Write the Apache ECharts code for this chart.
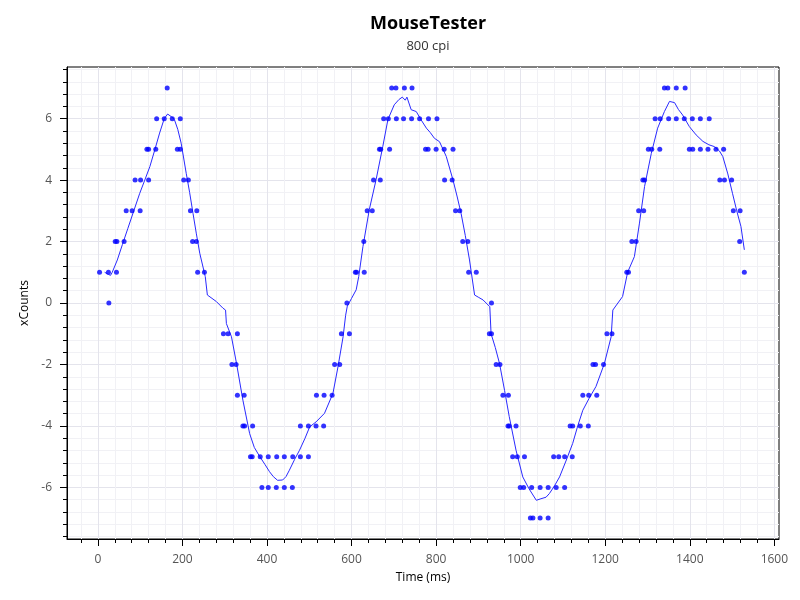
<!DOCTYPE html>
<html>
<head>
<meta charset="utf-8">
<title>MouseTester</title>
<script src="https://cdn.jsdelivr.net/npm/echarts@6/dist/echarts.min.js"></script>
<style>
  html, body { margin: 0; padding: 0; background: #fff; }
  #chart { width: 800px; height: 600px; }
</style>
</head>
<body>
<div id="chart"></div>
<script>
// raw counts (dots)
var dotTimes = [4, 25, 26, 41, 44, 45, 62, 67, 81, 88, 100, 101, 116, 120, 120, 137, 139, 157, 164, 176, 188, 195, 195, 203, 214, 219, 224, 233, 234, 236, 252,
  297, 308, 317, 327, 330, 330, 343, 346, 347, 361, 365, 366, 384, 388, 403, 403, 422, 423, 441, 441, 460, 461, 479, 479, 498, 498, 516, 517, 534, 535, 554, 560, 572, 576, 589, 595,
  609, 612, 629, 630, 637, 649, 652, 666, 668, 669, 676, 687, 690, 695, 705, 706, 723, 725, 742, 743, 761, 775, 781, 782, 800, 802, 819, 820, 838, 840, 846, 856, 863, 875, 877, 895,
  926, 931, 931, 942, 951, 958, 970, 971, 973, 981, 989, 992, 999, 1007, 1009, 1023, 1026, 1029, 1046, 1046, 1065, 1065, 1078, 1084, 1090, 1104, 1104, 1117, 1122, 1123, 1141, 1147, 1160, 1161, 1171, 1177, 1180, 1196, 1204, 1216,
  1251, 1255, 1263, 1273, 1279, 1289, 1291, 1293, 1302, 1310, 1318, 1329, 1330, 1340, 1348, 1350, 1368, 1368, 1387, 1389, 1399, 1406, 1407, 1425, 1425, 1443, 1446, 1462, 1471, 1480, 1482, 1499, 1503, 1518, 1519, 1529];
var dotCounts = [1, 1, 0, 2, 1, 2, 2, 3, 3, 4, 3, 4, 5, 4, 5, 5, 6, 6, 7, 6, 5, 5, 6, 4, 4, 3, 2, 2, 3, 1, 1,
  -1, -1, -2, -2, -1, -3, -4, -3, -4, -5, -5, -4, -5, -6, -5, -6, -6, -5, -5, -6, -6, -5, -5, -4, -5, -4, -4, -3, -4, -3, -3, -2, -2, -1, 0, -1,
  1, 1, 2, 1, 3, 3, 4, 5, 4, 5, 6, 6, 5, 7, 7, 6, 6, 7, 6, 7, 6, 5, 5, 6, 5, 6, 5, 4, 4, 5, 3, 3, 2, 2, 1, 1,
  -1, -1, 0, -2, -2, -3, -4, -3, -4, -5, -4, -5, -6, -6, -5, -7, -6, -7, -7, -6, -7, -6, -5, -6, -5, -6, -5, -4, -5, -4, -4, -3, -4, -3, -2, -2, -3, -2, -1, -1,
  1, 1, 2, 2, 3, 4, 3, 4, 5, 5, 6, 5, 6, 7, 7, 6, 6, 7, 6, 7, 5, 6, 5, 6, 5, 5, 6, 5, 4, 5, 4, 4, 3, 2, 3, 1];

// smoothed trace (line)
var lineTimes = [16, 25, 30, 34, 46, 58, 71, 85, 99, 111, 123, 135, 146, 157, 165, 169, 175, 181, 189, 197, 209, 217, 225, 233, 241, 254, 259, 280, 296, 302, 304, 316, 328, 343, 359, 370, 383, 395, 406, 415, 425, 437, 445, 453, 465, 477, 490, 501, 516, 536, 556, 568, 580, 586, 590, 600,
  611, 617, 627, 642, 658, 674, 686, 701, 712, 720, 727, 731, 741, 753, 765, 777, 786, 796, 808, 824, 840, 850, 859, 869, 879, 891, 901, 911, 927, 930, 940, 950, 962, 973, 989, 1005, 1020, 1037, 1048, 1060, 1068, 1080, 1092, 1108, 1123, 1135, 1147, 1162, 1178, 1198, 1214, 1218, 1230, 1241,
  1253, 1269, 1281, 1293, 1309, 1324, 1340, 1352, 1364, 1373, 1383, 1399, 1415, 1431, 1445, 1458, 1470, 1478, 1490, 1501, 1511, 1521, 1529];
var lineCounts = [1.0, 0.93, 0.9, 1.0, 1.4, 1.9, 2.43, 3.0, 3.57, 4.0, 4.44, 5.0, 5.53, 6.0, 6.15, 6.12, 6.05, 5.97, 5.65, 5.2, 4.22, 3.6, 2.92, 2.25, 1.62, 0.86, 0.26, 0.05, -0.17, -0.23, -0.67, -1.1, -1.97, -3.16, -4.25, -4.7, -5.0, -5.25, -5.49, -5.65, -5.77, -5.76, -5.65, -5.44, -5.1, -4.79, -4.4, -4.03, -3.87, -3.59, -2.94, -2.07, -1.1, -0.4, -0.1, 0.15,
  0.43, 0.86, 1.84, 3.04, 4.01, 5.1, 5.97, 6.45, 6.62, 6.7, 6.6, 6.7, 6.29, 6.23, 5.95, 5.69, 5.55, 5.36, 5.25, 4.77, 4.0, 3.45, 2.92, 2.2, 1.4, 0.26, 0.18, 0.1, -0.12, -1.0, -1.45, -1.97, -2.85, -3.7, -4.79, -5.66, -6.05, -6.42, -6.37, -6.32, -6.2, -5.95, -5.66, -5.11, -4.57, -4.0, -3.49, -3.1, -2.72, -1.97, -1.1, -0.23, 0.0, 0.21,
  1.0, 1.51, 2.6, 3.79, 4.87, 5.69, 6.23, 6.56, 6.52, 6.3, 6.12, 5.74, 5.47, 5.26, 5.15, 5.09, 4.95, 4.77, 4.2, 3.57, 3.0, 2.49, 1.73];

// axis ticks
var xMajorTicks = [0, 200, 400, 600, 800, 1000, 1200, 1400, 1600];
var yMajorTicks = [-6, -4, -2, 0, 2, 4, 6];
var xRange = [-73, 1611];
var yRange = [-7.68, 7.68];

// minor ticks: 5 steps between majors
function minorTicks(majors, range) {
  var step = (majors[1] - majors[0]) / 5;
  var out = [];
  var start = majors[0] - 5 * step;
  for (var i = 0; i <= (majors.length + 1) * 5; i++) {
    var v = Math.round((start + i * step) * 1000) / 1000;
    if (v < range[0] || v > range[1]) continue;
    if (i % 5 === 0) continue;
    out.push(v);
  }
  return out;
}

var xMinorTicks = minorTicks(xMajorTicks, xRange);
var yMinorTicks = minorTicks(yMajorTicks, yRange);

var dotData = dotTimes.map(function (t, i) { return [t, dotCounts[i]]; });
var lineData = lineTimes.map(function (t, i) { return [t, lineCounts[i]]; });

var font = '"Open Sans", "Noto Sans", sans-serif';
var labelColor = '#555';

function axisPair(range, majors, minors, extra) {
  var major = {
    type: 'value',
    min: range[0],
    max: range[1],
    axisLine: { show: true, onZero: false, lineStyle: { color: '#000', width: 1 } },
    axisTick: { show: true, customValues: majors, length: 7, lineStyle: { color: '#000' } },
    axisLabel: { show: true, customValues: majors, margin: 15, color: labelColor, fontSize: 12, fontFamily: font,
      formatter: function (v) { return String(v); } },
    splitLine: { show: true, lineStyle: { color: '#e4e4ec', width: 1 } }
  };
  var minor = {
    type: 'value',
    min: range[0],
    max: range[1],
    axisLine: { show: false, onZero: false },
    axisTick: { show: true, customValues: minors, length: 4, lineStyle: { color: '#000' } },
    axisLabel: { show: false },
    splitLine: { show: true, lineStyle: { color: '#f1f1f5', width: 1 } }
  };
  for (var k in extra) major[k] = extra[k];
  minor.position = major.position;
  return [minor, major];
}

var chart = echarts.init(document.getElementById('chart'), null, { renderer: 'canvas' });

var option = {
  animation: false,
  backgroundColor: '#fff',
  title: [
    { text: 'MouseTester', left: 423, top: 10, textAlign: 'center',
      textStyle: { fontSize: 18, fontWeight: 'bold', color: '#000', fontFamily: font } },
    { text: '800 cpi', left: 423, top: 35, textAlign: 'center',
      textStyle: { fontSize: 13, fontWeight: 'normal', color: '#333', fontFamily: font } }
  ],
  grid: { left: 67, right: 21, top: 67, bottom: 61, show: true, borderColor: '#000', borderWidth: 1, containLabel: false },
  xAxis: axisPair(xRange, xMajorTicks, xMinorTicks, {
    position: 'bottom', name: 'Time (ms)', nameLocation: 'middle', nameGap: 33,
    nameTextStyle: { color: '#000', fontSize: 12, fontFamily: font }
  }),
  yAxis: axisPair(yRange, yMajorTicks, yMinorTicks, {
    position: 'left', name: 'xCounts', nameLocation: 'middle', nameGap: 30,
    nameTextStyle: { color: '#000', fontSize: 12, fontFamily: font }
  }),
  series: [
    {
      name: 'trace',
      type: 'line',
      xAxisIndex: 1,
      yAxisIndex: 1,
      data: lineData,
      showSymbol: false,
      lineStyle: { color: '#2a2aff', width: 1 },
      z: 2
    },
    {
      name: 'counts',
      type: 'scatter',
      xAxisIndex: 1,
      yAxisIndex: 1,
      data: dotData,
      symbol: 'circle',
      symbolSize: 5,
      itemStyle: { color: '#0000ff' },
      z: 3
    }
  ]
};

chart.setOption(option);
</script>
</body>
</html>
